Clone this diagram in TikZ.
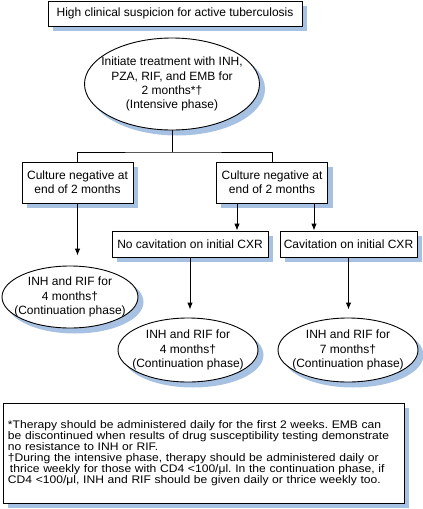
\documentclass[tikz,border=0pt]{standalone}
\usepackage{fontspec}
\setmainfont{Liberation Sans}
\newfontfamily\footfont[FakeStretch=1.1]{Liberation Sans}
\usetikzlibrary{shapes.geometric,backgrounds,arrows.meta}
\definecolor{shadowblue}{RGB}{166,193,226}
\frenchspacing
\tikzset{
  boxnode/.style={draw, line width=0.9pt, fill=white, rectangle, inner sep=0pt, align=center,
    font=\fontsize{12}{14.2}\selectfont},
  ellnode/.style={draw, line width=0.9pt, fill=white, ellipse, inner sep=0pt},
  elltext/.style={align=center, font=\fontsize{12}{14.2}\selectfont},
  shadowfill/.style={fill=shadowblue},
  link/.style={line width=0.9pt},
  arr/.style={line width=0.9pt, -{Latex[length=7pt,width=5.5pt]}}
}
\begin{document}
\begin{tikzpicture}[x=1pt,y=-1pt]
\useasboundingbox (0,0) rectangle (423,509);
\node[boxnode, minimum width=254, minimum height=25] (top) at (175,13.5) {High clinical suspicion for active tuberculosis};
\node[ellnode, minimum width=175, minimum height=92,
  label={[elltext]center:Initiate treatment with INH,\\PZA, RIF, and EMB for\\2 months*†\\(Intensive phase)}] (e1) at (172,84) {};
\node[boxnode, minimum width=111, minimum height=41] (c1) at (77.5,182.5) {Culture negative at\\end of 2 months};
\node[boxnode, minimum width=111, minimum height=41] (c2) at (272,182.5) {Culture negative at\\end of 2 months};
\node[boxnode, minimum width=156, minimum height=26] (n1) at (190,244) {No cavitation on initial CXR};
\node[boxnode, minimum width=137, minimum height=26] (n2) at (348.5,244) {Cavitation on initial CXR};
\node[ellnode, minimum width=136, minimum height=62,
  label={[elltext]center:INH and RIF for\\4 months†\\(Continuation phase)}] (e2) at (70,297) {};
\node[ellnode, minimum width=140, minimum height=64,
  label={[elltext]center:INH and RIF for\\4 months†\\(Continuation phase)}] (e3) at (188,350) {};
\node[ellnode, minimum width=140, minimum height=64,
  label={[elltext]center:INH and RIF for\\7 months†\\(Continuation phase)}] (e4) at (348,350) {};
\node[boxnode, minimum width=401, minimum height=100, text width=391pt, align=left, inner sep=5pt,
  font=\footfont\fontsize{11}{11}\selectfont] (foot) at (203.5,453)
  {*Therapy should be administered daily for the first 2 weeks. EMB can\\
   be discontinued when results of drug susceptibility testing demonstrate\\
   no resistance to INH or RIF.\\
   †During the intensive phase, therapy should be administered daily or\\
   \hspace*{2pt}thrice weekly for those with CD4 <100/μl. In the continuation phase, if\\
   CD4 <100/μl, INH and RIF should be given daily or thrice weekly too.};
\begin{scope}[on background layer]
  \foreach \n in {top,c1,c2,n1,n2,foot}{
    \fill[shadowfill] ([xshift=5pt,yshift=-5pt]\n.south west) rectangle ([xshift=5pt,yshift=-5pt]\n.north east);
  }
  \fill[shadowfill] ([xshift=5pt,yshift=-5pt]e1.center) ellipse [x radius=88pt, y radius=46.5pt];
  \fill[shadowfill] ([xshift=5pt,yshift=-5pt]e2.center) ellipse [x radius=68.5pt, y radius=31.5pt];
  \fill[shadowfill] ([xshift=5pt,yshift=-5pt]e3.center) ellipse [x radius=70.5pt, y radius=32.5pt];
  \fill[shadowfill] ([xshift=5pt,yshift=-5pt]e4.center) ellipse [x radius=70.5pt, y radius=32.5pt];
\end{scope}
\coordinate (j) at (172,152);
\draw[link] (e1.south) -- (j);
\draw[link] (c1.north) |- (j) -| (c2.north);
\draw[arr, shorten >=10pt] (c1.south) -- (c1.south |- e2.north);
\draw[arr] ([xshift=-35pt]c2.south) -- ([xshift=-35pt]c2.south |- n1.north);
\draw[arr] ([xshift=42pt]c2.south) -- ([xshift=42pt]c2.south |- n2.north);
\draw[arr, shorten >=8pt] (n1.south) -- (n1.south |- e3.north);
\draw[arr, shorten >=8pt] (n2.south) -- (n2.south |- e4.north);
\end{tikzpicture}
\end{document}
